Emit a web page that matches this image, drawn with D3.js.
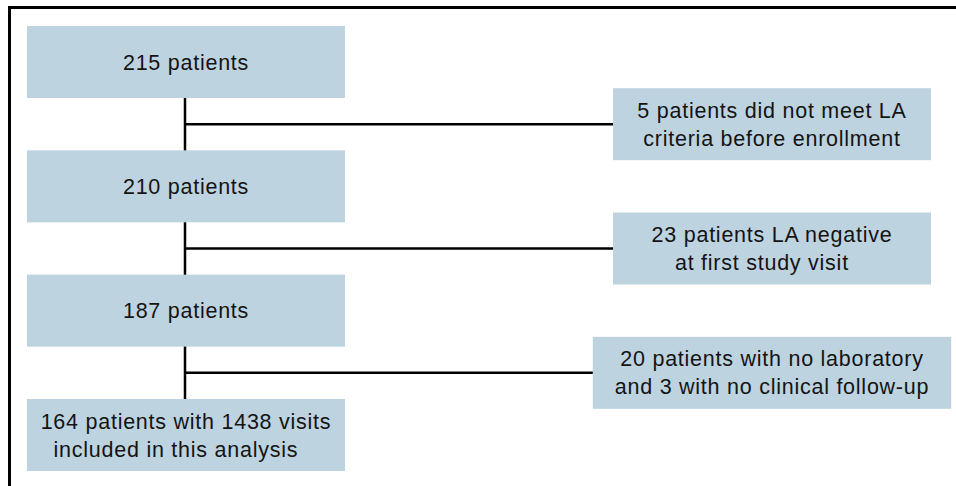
<!DOCTYPE html>
<html>
<head>
<meta charset="utf-8">
<script src="https://cdn.jsdelivr.net/npm/d3@7"></script>
<style>
    html, body { margin: 0; padding: 0; background: #fff; }
    svg { display: block; }
    text { font-family: "Liberation Sans", Arial, sans-serif; font-size: 21.5px; fill: #141414; letter-spacing: 0.75px; white-space: pre; }
</style>
</head>
<body>
<svg id="flow"></svg>
<script>
// Flow steps (main column) and exclusions (side column)
var steps = [
    ['215 patients'],
    ['210 patients'],
    ['187 patients'],
    ['164 patients with 1438 visits', 'included in this analysis   ']
];

var exclusions = [
    ['5 patients did not meet LA', 'criteria before enrollment'],
    ['23 patients LA negative', 'at first study visit   '],
    ['20 patients with no laboratory', 'and 3 with no clinical follow-up']
];

var w = 956, h = 486;
var boxH = 72, boxW = 318, lineGap = 28;
var fill = '#bed3e0';

var svg = d3.select('svg#flow')
    .attr('width', w)
    .attr('height', h);

// rows of the main column
var y = d3.scalePoint()
    .domain(d3.range(steps.length))
    .range([26, 399]);

// columns: main box centre and exclusion box centre
var x = d3.scalePoint()
    .domain(['main', 'side'])
    .range([186, 772]);

// frame (top and left edge only)
svg.append('path')
    .attr('d', 'M9.5,' + h + ' V7.5 H' + w)
    .attr('fill', 'none')
    .attr('stroke', '#000')
    .attr('stroke-width', 3);

function writeLines(sel, cx, cy) {
    sel.selectAll('text')
        .data(function(d) { return d; })
        .join('text')
        .attr('x', cx)
        .attr('y', function(d, i, nodes) {
            var n = nodes.length;
            return cy + (i - (n - 1) / 2) * lineGap + 7.5;
        })
        .attr('text-anchor', 'middle')
        .text(function(d) { return d; });
}

// connectors
var branchY = function(i) {
    return (y(i) + boxH + y(i + 1)) / 2;
};

svg.append('line')
    .attr('x1', x('main') - 1).attr('x2', x('main') - 1)
    .attr('y1', y(0) + boxH).attr('y2', y(steps.length - 1))
    .attr('stroke', '#000')
    .attr('stroke-width', 2.5);

// main boxes
var mainG = svg.selectAll('g.step')
    .data(steps)
    .join('g')
    .classed('step', true);

mainG.append('rect')
    .attr('x', x('main') - boxW / 2)
    .attr('y', function(d, i) { return y(i); })
    .attr('width', boxW)
    .attr('height', boxH)
    .attr('fill', fill);

mainG.each(function(d, i) {
    writeLines(d3.select(this), x('main'), y(i) + boxH / 2);
});

// exclusion boxes
var sideG = svg.selectAll('g.excl')
    .data(exclusions)
    .join('g')
    .classed('excl', true);

sideG.each(function(d, i) {
    var g = d3.select(this);
    var cy = branchY(i);
    var rect = g.append('rect').attr('fill', fill);
    writeLines(g, x('side'), cy);
    var tw = d3.max(g.selectAll('text').nodes(), function(n) {
        return n.getComputedTextLength();
    });
    var bw = Math.max(boxW, tw + 44);
    rect.attr('x', x('side') - bw / 2)
        .attr('y', cy - boxH / 2)
        .attr('width', bw)
        .attr('height', boxH);
    svg.append('line')
        .attr('x1', x('main') - 1).attr('x2', x('side') - bw / 2)
        .attr('y1', cy).attr('y2', cy)
        .attr('stroke', '#000')
        .attr('stroke-width', 2.5);
});
</script>
</body>
</html>
